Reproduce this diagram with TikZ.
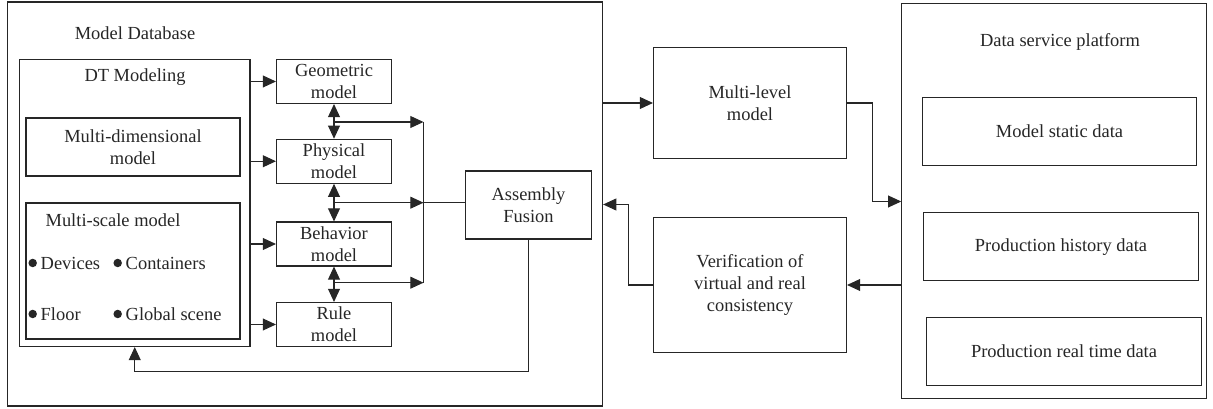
\documentclass[tikz,border=0pt]{standalone}
\usepackage{fontspec}
\setmainfont{Liberation Serif}
\usetikzlibrary{arrows.meta,calc,positioning}

\begin{document}
\begin{tikzpicture}[>={Triangle[length=7.5pt,width=6.8pt]}, font=\fontsize{10.5}{12.6}\selectfont,
        black!85, line width=0.6pt,
        frame/.style={draw, inner sep=1pt, align=center},
        mbox/.style={frame, minimum width=2.3cm, minimum height=0.88cm},
        dbox/.style={frame, minimum width=5.49cm, minimum height=1.36cm}]
        \useasboundingbox (0,0) rectangle (24.26,8.18);

        % model database side
        \node[frame, minimum width=11.91cm, minimum height=8.08cm] (db) at (6.097,4.1) {};
        \node (dblbl) at (2.7,7.52) {Model Database};

        \node[frame, minimum width=4.61cm, minimum height=5.74cm] (dt) at (2.695,4.12) {};
        \node (dtlbl) at (2.7,6.64) {DT Modeling};
        \node[frame, minimum width=4.28cm, minimum height=1.16cm] (mdim) at (2.66,5.24) {Multi-dimensional\\model};
        \node[frame, minimum width=4.28cm, minimum height=2.72cm] (msc) at (2.66,2.76) {};
        \node (msclbl) at (2.26,3.78) {Multi-scale model};
        \foreach \x/\y/\n/\t in {0.654/2.92/dev/Devices, 2.354/2.92/con/Containers,
                                 0.654/1.9/flo/Floor, 2.354/1.9/glo/Global scene}{
            \fill (\x,\y) circle (0.085);
            \node[anchor=west, inner sep=0pt] (\n) at (\x+0.15,\y) {\t};
        }

        \node[mbox] (geo) at (6.68,6.55) {Geometric\\model};
        \node[mbox] (phy) at (6.68,4.955) {Physical\\model};
        \node[mbox] (beh) at (6.68,3.30) {Behavior\\model};
        \node[mbox] (rule) at (6.68,1.69) {Rule\\model};
        \foreach \m in {geo,phy,beh,rule}{
            \draw[->] (dt.east |- \m) -- (\m);
        }
        \draw[<->] (geo) -- (phy);
        \draw[<->] (phy) -- (beh);
        \draw[<->] (beh) -- (rule);

        \node[frame, minimum width=2.52cm, minimum height=1.36cm] (fus) at (10.57,4.08) {Assembly\\Fusion};
        \coordinate (b1) at (8.47,5.74);
        \coordinate (b2) at (8.47,4.126);
        \coordinate (b3) at (8.47,2.526);
        \foreach \b in {b1,b2,b3}{
            \draw[->] (geo |- \b) -- (\b);
        }
        \draw (b1) -- (b3);
        \draw (b2) -- (fus.west |- b2);
        \coordinate (fb) at (0,0.746);
        \draw[->] (fus.south) -- (fus.south |- fb) -- (dt.south |- fb) -- (dt.south);

        % middle column
        \node[frame, minimum width=3.86cm, minimum height=2.22cm] (mlm) at (15.0,6.12) {Multi-level\\model};
        \node[frame, minimum width=3.86cm, minimum height=2.71cm] (ver) at (15.0,2.48) {Verification of\\virtual and real\\consistency};

        % data service platform
        \node[frame, minimum width=6.09cm, minimum height=7.9cm] (dsp) at (21.08,4.164) {};
        \node (dsplbl) at (21.2,7.35) {Data service platform};
        \node[dbox] (sta) at (21.19,5.557) {Model static data};
        \node[dbox] (his) at (21.22,3.246) {Production history data};
        \node[dbox] (rea) at (21.28,1.15) {Production real time data};

        \draw[->] (db.east |- mlm) -- (mlm);
        \coordinate (k1) at (17.45,4.15);
        \draw[->] (mlm.east) -| (k1) -- (k1 -| dsp.west);
        \draw[->] (dsp.west |- ver) -- (ver);
        \coordinate (k2) at (12.57,4.09);
        \draw[->] (ver.west) -| (k2) -- (k2 -| db.east);
    \end{tikzpicture}
\end{document}
